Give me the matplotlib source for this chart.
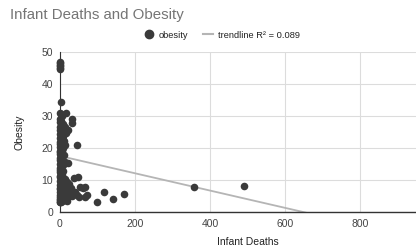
import numpy as np
import matplotlib.pyplot as plt
from matplotlib.lines import Line2D

# ---- data ----
infant_deaths = [
    0, 0, 1, 0, 1, 0, 4,
    0, 2, 16, 5, 31, 1, 3, 31, 0, 8, 2, 0, 12, 20, 4, 1, 6, 0, 15, 3, 9, 0, 2, 7,
    11, 1, 5, 0, 44, 13, 3, 0, 8, 2, 0, 6, 1, 4, 0, 10, 2, 0, 5, 1, 3, 22, 14, 0,
    7, 2, 0, 4, 1, 9, 0, 3, 6, 1, 49, 36, 0, 12, 4, 0, 18, 2, 8, 0, 25, 5, 53, 67,
    14, 1, 30, 0, 10, 62, 3, 20, 40, 0, 7, 28, 2, 15, 71, 44, 0, 5, 33, 67, 1, 22,
    9, 0, 50, 3, 12, 0, 6, 18, 1, 0, 4,
    98, 118, 140, 171, 358, 491, 965,
]
obesity = [
    47, 46.5, 46, 45.5, 45, 44.8, 34.3,
    31, 30.5, 30.8, 30, 29.2, 29, 28.5, 27.7, 28, 27.5, 27, 26.5, 26.5, 25.6, 26,
    25.5, 25, 24.5, 24.8, 24, 23.6, 23.2, 23, 22.5, 22.2, 22, 21.6, 21.2, 21, 21,
    20.6, 20.2, 20, 19.6, 19.2, 19, 18.6, 18.2, 18, 17.8, 17.4, 17, 16.6, 16.2, 16,
    15.2, 15.5, 15, 14.6, 14.2, 13.8, 13.4, 13, 12.8, 12.4, 12, 11.6, 11.2, 11,
    10.5, 10.8, 10.4, 10, 9.6, 9.4, 9.2, 8.8, 8.4, 8.6, 8.2, 7.9, 7.9, 7.8, 7.6,
    7.4, 7.2, 7, 7.5, 6.8, 6.6, 6.4, 6.2, 6, 5.9, 5.8, 5.6, 5.3, 5.3, 5.4, 5.2, 5.0,
    4.8, 4.8, 4.6, 4.4, 4.2, 4.6, 4.0, 3.8, 3.6, 3.4, 3.5, 3.2, 3.0, 3.0,
    3.2, 6.1, 4.0, 5.5, 7.9, 8.1, 3.7,
]
trend_intercept = 17.5
trend_slope = -0.027
r_squared = 0.089

x_grid = [0, 200, 400, 600, 800, 1000]
x_labels = ['0', '200', '400', '600', '800', '']  # 1000 falls outside the crop
y_ticks = [0, 10, 20, 30, 40, 50]

plt.rcParams['font.family'] = ['Liberation Sans', 'DejaVu Sans']

fig = plt.figure(figsize=(4.16, 2.52), dpi=100)
# plot area runs off the right edge, like the cropped original
ax = fig.add_axes([60 / 416, 40 / 252, 375 / 416, 160 / 252])

ax.scatter(infant_deaths, obesity, s=30, color='#3a3a3a', zorder=3,
           linewidths=0, clip_on=False)
tx = np.array([0, 1000])
ax.plot(tx, trend_intercept + trend_slope * tx, color='#b5b5b5', lw=1.3, zorder=2)

ax.set_xlim(0, 1000)
ax.set_ylim(0, 50)
ax.set_xticks(x_grid)
ax.set_xticklabels(x_labels)
ax.set_yticks(y_ticks)
ax.grid(True, color='#dcdcdc', lw=0.8)
ax.set_axisbelow(True)
for s in ['top', 'right']:
    ax.spines[s].set_visible(False)
ax.spines['bottom'].set_color('#333333')
ax.spines['left'].set_color('#333333')
ax.spines['bottom'].set_linewidth(1.0)
ax.spines['left'].set_linewidth(0.8)
ax.tick_params(length=0, labelsize=7.5, labelcolor='#444444', pad=5)

ax.set_xlabel('Infant Deaths', fontsize=7.5, color='#222222', labelpad=6)
ax.set_ylabel('Obesity', fontsize=7.5, color='#222222', labelpad=12)

fig.text(10 / 416, 1 - 15 / 252, 'Infant Deaths and Obesity', fontsize=10.8,
         color='#757575', va='center', ha='left')

handles = [
    Line2D([], [], marker='o', ls='none', color='#3a3a3a', markersize=6),
    Line2D([], [], color='#b5b5b5', lw=1.5),
]
fig.legend(handles, ['obesity', f'trendline R\u00b2 = {r_squared}'],
           loc='center', bbox_to_anchor=(222 / 416, 1 - 35 / 252), ncol=2,
           frameon=False, fontsize=6.7, handlelength=1.0, handletextpad=0.6,
           columnspacing=1.6, labelcolor='#222222')

fig.savefig('out.png', dpi=100)
